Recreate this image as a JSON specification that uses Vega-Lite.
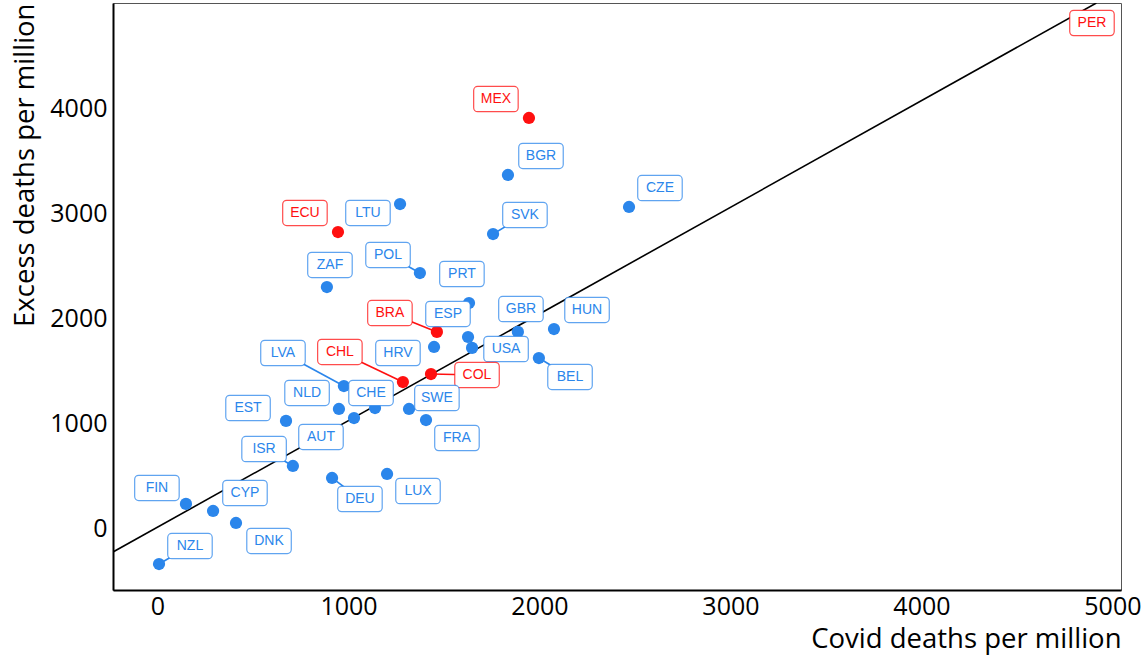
{
  "$schema": "https://vega.github.io/schema/vega-lite/v6.json",
  "width": 1008,
  "height": 587,
  "autosize": {"type": "none"},
  "padding": {"left": 113, "top": 3, "right": 23, "bottom": 71},
  "background": "white",
  "config": {
    "view": {"stroke": "#555555", "strokeWidth": 1},
    "axis": {
      "labelFont": "Open Sans", "labelFontSize": 25, "labelColor": "#000000", "format": "d",
      "titleFont": "Open Sans", "titleFontSize": 27.5, "titleFontWeight": "normal", "titleColor": "#000000",
      "ticks": false, "grid": false, "domainColor": "#000000", "domainWidth": 2
    }
  },
  "datasets": {
    "countries": [
      {"country": "MEX", "region": "Latin America", "covid": 1945, "excess": 3907, "lx": 1772, "ly": 4087, "linked": false},
      {"country": "BGR", "region": "Other", "covid": 1835, "excess": 3365, "lx": 2008, "ly": 3546, "linked": false},
      {"country": "CZE", "region": "Other", "covid": 2469, "excess": 3061, "lx": 2631, "ly": 3241, "linked": false},
      {"country": "SVK", "region": "Other", "covid": 1757, "excess": 2804, "lx": 1924, "ly": 2985, "linked": true},
      {"country": "ECU", "region": "Latin America", "covid": 945, "excess": 2823, "lx": 772, "ly": 3004, "linked": false},
      {"country": "LTU", "region": "Other", "covid": 1270, "excess": 3089, "lx": 1102, "ly": 3004, "linked": false},
      {"country": "POL", "region": "Other", "covid": 1374, "excess": 2433, "lx": 1207, "ly": 2605, "linked": true},
      {"country": "ZAF", "region": "Other", "covid": 887, "excess": 2300, "lx": 903, "ly": 2510, "linked": false},
      {"country": "PRT", "region": "Other", "covid": 1631, "excess": 2148, "lx": 1594, "ly": 2424, "linked": false},
      {"country": "BRA", "region": "Latin America", "covid": 1463, "excess": 1873, "lx": 1217, "ly": 2053, "linked": true},
      {"country": "ESP", "region": "Other", "covid": 1626, "excess": 1825, "lx": 1521, "ly": 2044, "linked": false},
      {"country": "USA", "region": "Other", "covid": 1647, "excess": 1721, "lx": 1825, "ly": 1711, "linked": false},
      {"country": "HRV", "region": "Other", "covid": 1448, "excess": 1730, "lx": 1259, "ly": 1673, "linked": false},
      {"country": "GBR", "region": "Other", "covid": 1887, "excess": 1873, "lx": 1903, "ly": 2091, "linked": false},
      {"country": "HUN", "region": "Other", "covid": 2076, "excess": 1901, "lx": 2249, "ly": 2082, "linked": false},
      {"country": "BEL", "region": "Other", "covid": 1997, "excess": 1625, "lx": 2160, "ly": 1445, "linked": true},
      {"country": "COL", "region": "Latin America", "covid": 1432, "excess": 1473, "lx": 1673, "ly": 1464, "linked": true},
      {"country": "CHL", "region": "Latin America", "covid": 1285, "excess": 1397, "lx": 955, "ly": 1683, "linked": true},
      {"country": "LVA", "region": "Other", "covid": 976, "excess": 1359, "lx": 657, "ly": 1673, "linked": true},
      {"country": "NLD", "region": "Other", "covid": 950, "excess": 1141, "lx": 783, "ly": 1293, "linked": false},
      {"country": "CHE", "region": "Other", "covid": 1139, "excess": 1150, "lx": 1118, "ly": 1293, "linked": false},
      {"country": "AUT", "region": "Other", "covid": 1029, "excess": 1055, "lx": 856, "ly": 875, "linked": false},
      {"country": "EST", "region": "Other", "covid": 673, "excess": 1027, "lx": 474, "ly": 1150, "linked": false},
      {"country": "SWE", "region": "Other", "covid": 1317, "excess": 1141, "lx": 1463, "ly": 1245, "linked": false},
      {"country": "FRA", "region": "Other", "covid": 1406, "excess": 1036, "lx": 1568, "ly": 865, "linked": false},
      {"country": "ISR", "region": "Other", "covid": 709, "excess": 599, "lx": 558, "ly": 760, "linked": true},
      {"country": "FIN", "region": "Other", "covid": 149, "excess": 238, "lx": -3, "ly": 390, "linked": false},
      {"country": "CYP", "region": "Other", "covid": 291, "excess": 171, "lx": 458, "ly": 342, "linked": false},
      {"country": "DNK", "region": "Other", "covid": 411, "excess": 57, "lx": 584, "ly": -114, "linked": false},
      {"country": "NZL", "region": "Other", "covid": 8, "excess": -333, "lx": 170, "ly": -162, "linked": true},
      {"country": "DEU", "region": "Other", "covid": 914, "excess": 485, "lx": 1060, "ly": 285, "linked": true},
      {"country": "LUX", "region": "Other", "covid": 1202, "excess": 523, "lx": 1364, "ly": 361, "linked": false},
      {"country": "PER", "region": "Latin America", "covid": 5800, "excess": 5500, "lx": 4893, "ly": 4810, "linked": false}
    ],
    "diagonal": [
      {"covid": -233, "excess": -219},
      {"covid": 4916, "excess": 5000}
    ]
  },
  "layer": [
    {
      "data": {"name": "diagonal"},
      "mark": {"type": "line", "color": "#000000", "strokeWidth": 1.6, "clip": true},
      "encoding": {
        "x": {"field": "covid", "type": "quantitative", "scale": {"domain": [-233, 5045], "nice": false, "zero": false},
              "axis": {"values": [0, 1000, 2000, 3000, 4000, 5000], "title": "Covid deaths per million", "titleAnchor": "end", "labelPadding": 4, "titlePadding": 6}},
        "y": {"field": "excess", "type": "quantitative", "scale": {"domain": [-580, 5000], "nice": false, "zero": false},
              "axis": {"values": [0, 1000, 2000, 3000, 4000], "title": "Excess deaths per million", "titleAnchor": "end", "labelPadding": 6, "titlePadding": 10}}
      }
    },
    {
      "data": {"name": "countries"},
      "transform": [{"filter": "datum.linked"}],
      "mark": {"type": "rule", "strokeWidth": 1.6, "clip": true},
      "encoding": {
        "x": {"field": "covid", "type": "quantitative"},
        "y": {"field": "excess", "type": "quantitative"},
        "x2": {"field": "lx"},
        "y2": {"field": "ly"},
        "color": {"field": "region", "type": "nominal", "scale": {"domain": ["Other", "Latin America"], "range": ["#2b86eb", "#ff1010"]}, "legend": null}
      }
    },
    {
      "data": {"name": "countries"},
      "mark": {"type": "circle", "size": 150, "opacity": 1, "clip": true},
      "encoding": {
        "x": {"field": "covid", "type": "quantitative"},
        "y": {"field": "excess", "type": "quantitative"},
        "color": {"field": "region", "type": "nominal", "legend": null}
      }
    },
    {
      "data": {"name": "countries"},
      "mark": {"type": "point", "shape": "M-0.82,-0.568H0.82A0.18,0.18,0,0,1,1,-0.388V0.388A0.18,0.18,0,0,1,0.82,0.568H-0.82A0.18,0.18,0,0,1,-1,0.388V-0.388A0.18,0.18,0,0,1,-0.82,-0.568Z", "size": 1980, "fill": "#ffffff", "fillOpacity": 1, "strokeWidth": 1.2, "strokeOpacity": 0.75, "opacity": 1},
      "encoding": {
        "x": {"field": "lx", "type": "quantitative"},
        "y": {"field": "ly", "type": "quantitative"},
        "stroke": {"field": "region", "type": "nominal", "scale": {"domain": ["Other", "Latin America"], "range": ["#2b86eb", "#ff1010"]}, "legend": null}
      }
    },
    {
      "data": {"name": "countries"},
      "mark": {"type": "text", "font": "Liberation Sans", "fontSize": 14, "align": "center", "baseline": "middle"},
      "encoding": {
        "x": {"field": "lx", "type": "quantitative"},
        "y": {"field": "ly", "type": "quantitative"},
        "text": {"field": "country"},
        "color": {"field": "region", "type": "nominal", "legend": null}
      }
    }
  ]
}
